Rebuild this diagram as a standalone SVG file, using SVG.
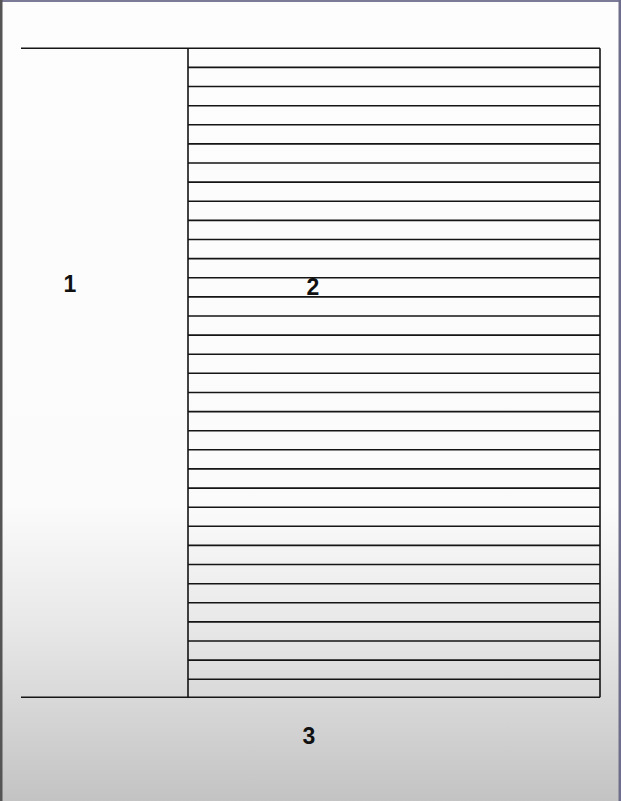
<svg xmlns="http://www.w3.org/2000/svg" width="621" height="801" viewBox="0 0 621 801">
<defs>
<linearGradient id="bg" x1="0" y1="0" x2="0" y2="1">
<stop offset="0" stop-color="#fdfdfd"/>
<stop offset="0.63" stop-color="#fbfbfb"/>
<stop offset="0.78" stop-color="#e8e8e8"/>
<stop offset="1" stop-color="#c3c3c3"/>
</linearGradient>
<style>
.ln{stroke:#151515;stroke-width:1.6;fill:none}
.lbl{font-family:"Liberation Sans",Arial,sans-serif;font-weight:bold;font-size:23px;fill:#111;text-anchor:middle}
</style>
</defs>
<rect x="0" y="0" width="621" height="801" fill="url(#bg)"/>
<rect x="0" y="0" width="621" height="2" fill="#7b7b98"/>
<rect x="0" y="0" width="2.5" height="801" fill="#555"/>
<rect x="618.5" y="0" width="2.5" height="801" fill="#6e6e8c"/>
<g id="connectors">
<path class="ln" d="M21 48.3H600M21 697.3H600M188 48.3V697.3M600 48.3V697.3"/>
<path class="ln" d="M188 67.4H600M188 86.5H600M188 105.7H600M188 124.8H600M188 143.9H600M188 163H600M188 182.1H600M188 201.3H600M188 220.4H600M188 239.5H600M188 258.6H600M188 277.7H600M188 296.9H600M188 316H600M188 335.1H600M188 354.2H600M188 373.3H600M188 392.5H600M188 411.6H600M188 430.7H600M188 449.8H600M188 468.9H600M188 488.1H600M188 507.2H600M188 526.3H600M188 545.4H600M188 564.5H600M188 583.7H600M188 602.8H600M188 621.9H600M188 641H600M188 660.1H600M188 679.3H600"/>
</g>
<g id="cue"><text class="lbl" x="70" y="292">1</text></g>
<g id="notes"><text class="lbl" x="313" y="295">2</text></g>
<g id="summary"><text class="lbl" x="309" y="744">3</text></g>
</svg>
